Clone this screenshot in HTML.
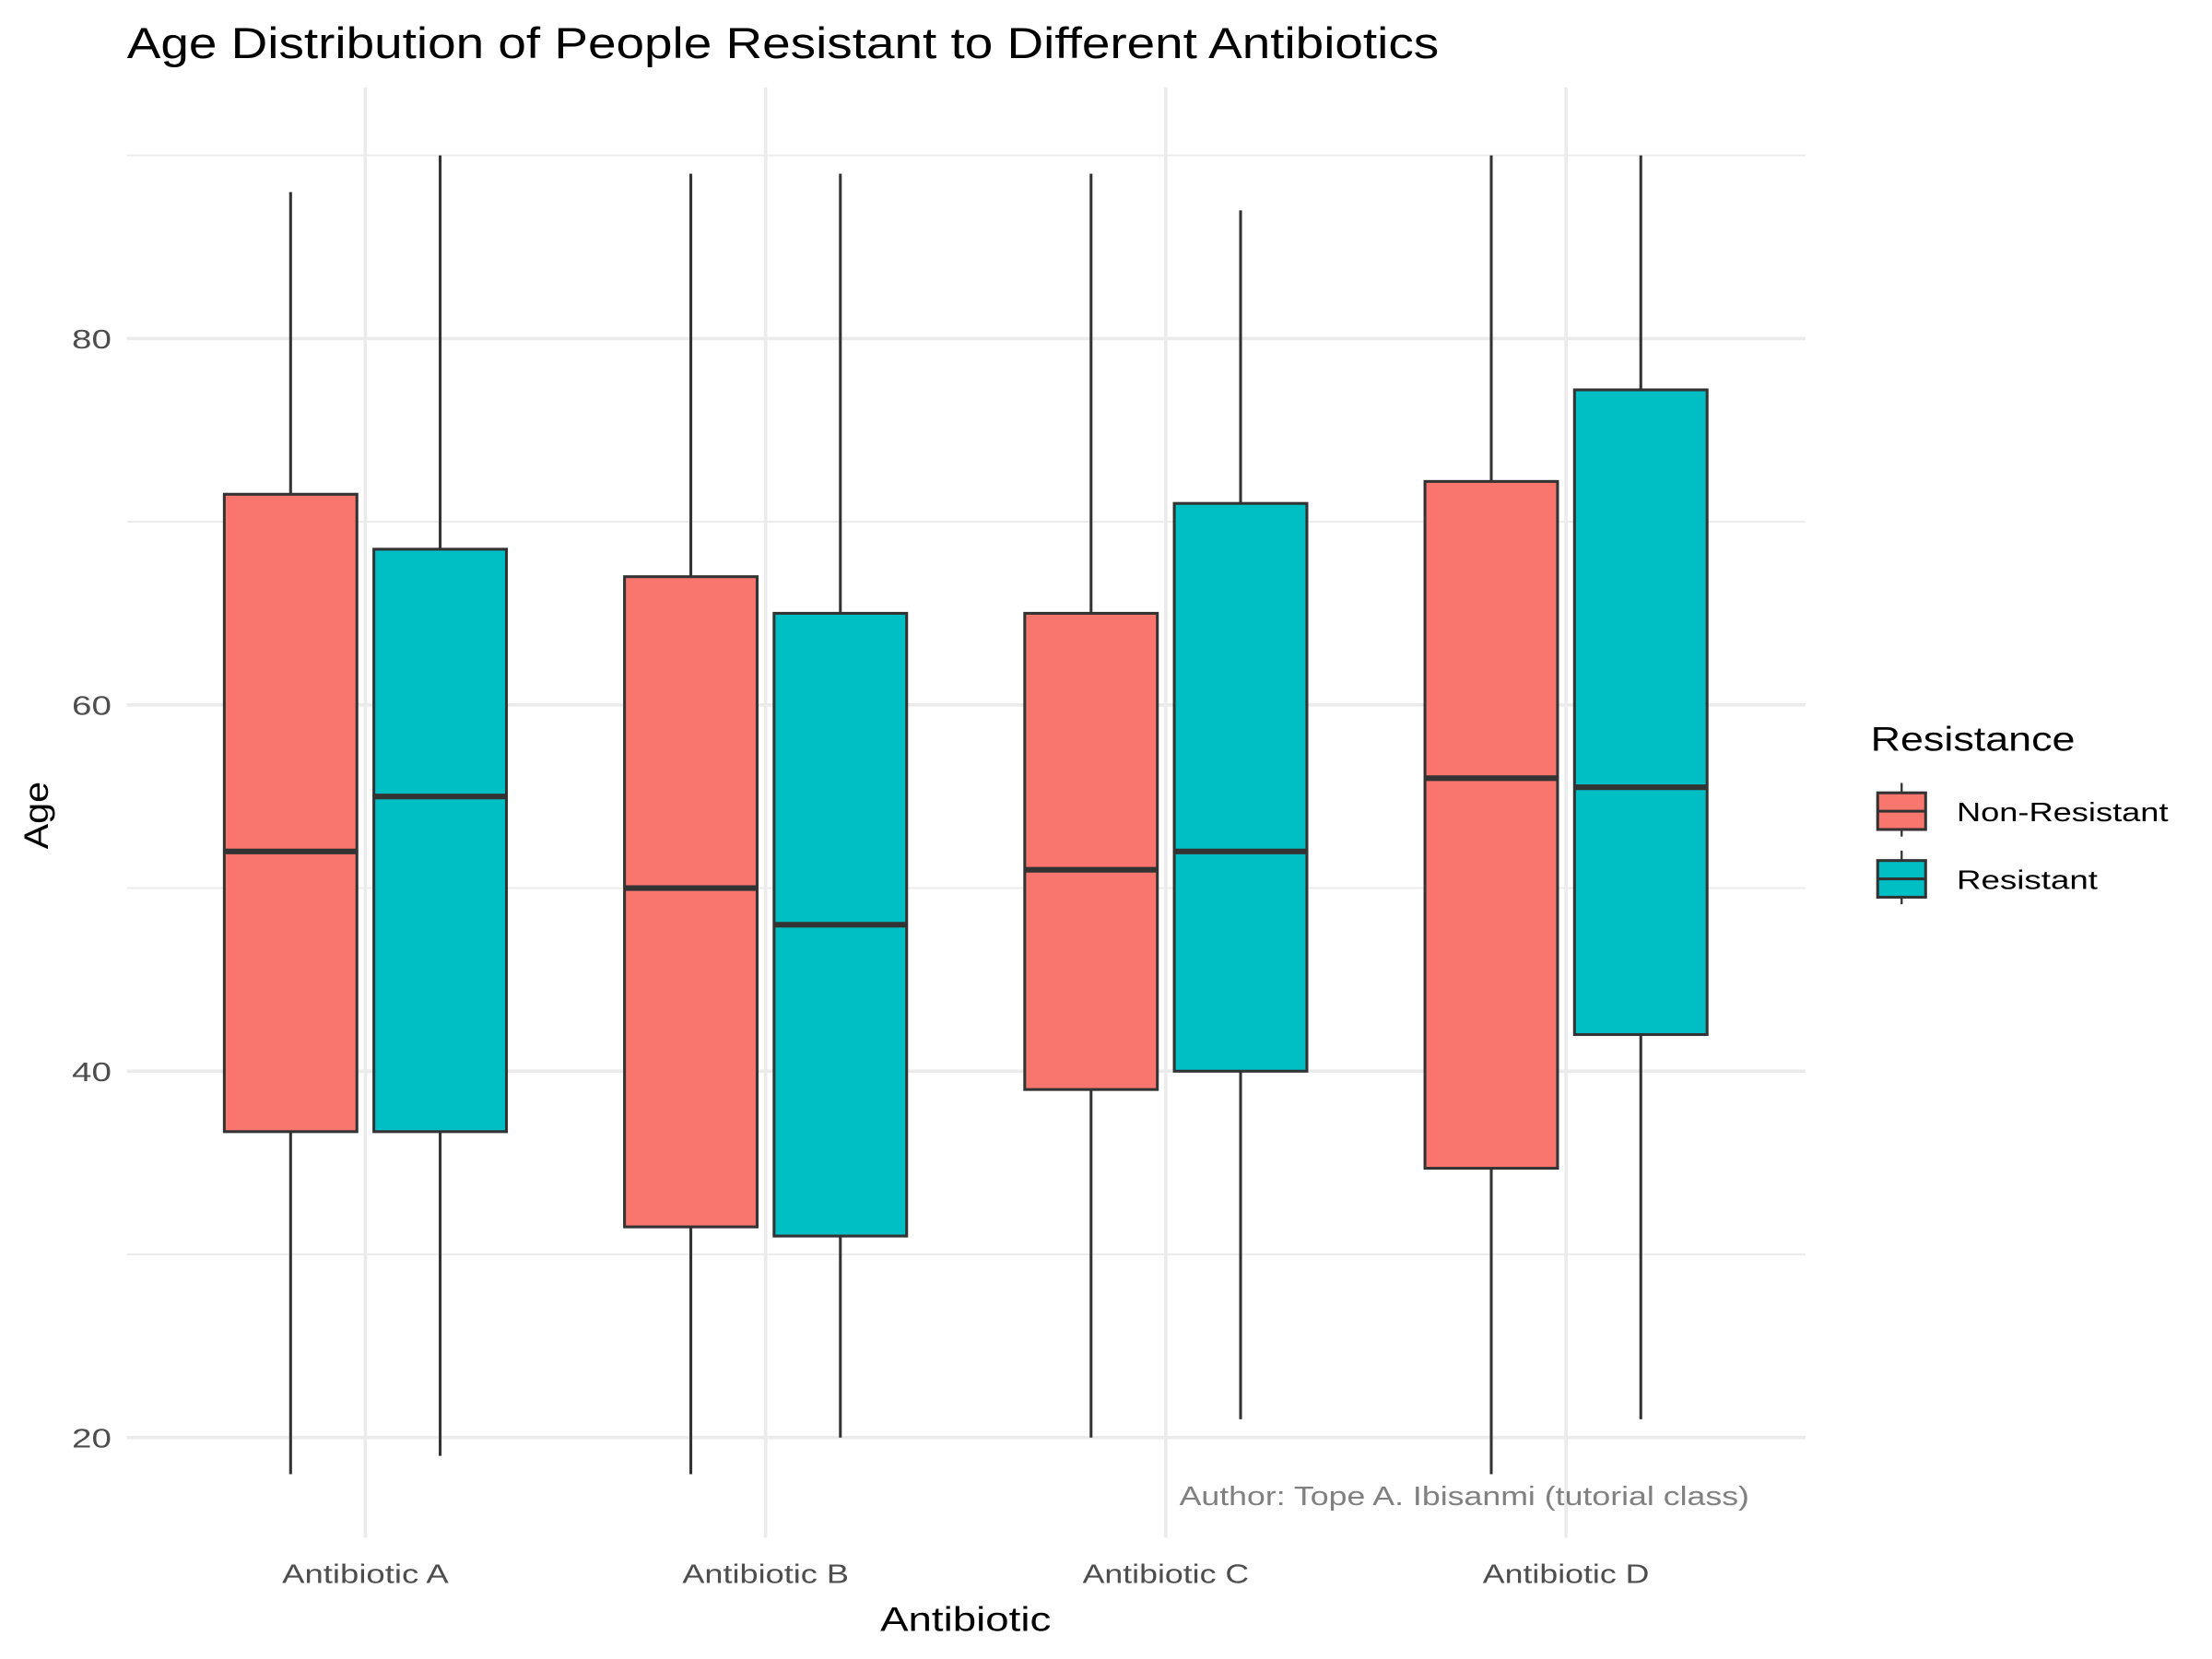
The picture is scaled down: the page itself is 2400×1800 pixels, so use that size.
<!DOCTYPE html>
<html><head><meta charset="utf-8"><style>html,body{margin:0;padding:0;background:#fff}svg{display:block}</style></head>
<body>
<svg id="chart" width="2400" height="1800" viewBox="0 0 1568 1176" xmlns="http://www.w3.org/2000/svg" font-family="Liberation Sans, sans-serif">
<g id="grid"></g>
<g id="boxes"></g>
<g id="axes"></g>
<text x="90" y="41" font-size="31" textLength="930" lengthAdjust="spacingAndGlyphs" fill="#000">Age Distribution of People Resistant to Different Antibiotics</text>
<text transform="translate(34,578) rotate(-90)" text-anchor="middle" font-size="24" textLength="48" lengthAdjust="spacingAndGlyphs" fill="#000">Age</text>
<text x="624" y="1156" font-size="24" textLength="121" lengthAdjust="spacingAndGlyphs" fill="#000">Antibiotic</text>
<text x="836" y="1067" font-size="19" textLength="404" lengthAdjust="spacingAndGlyphs" fill="#808080">Author: Tope A. Ibisanmi (tutorial class)</text>
<g>
<text x="1326" y="532" font-size="24" textLength="145" lengthAdjust="spacingAndGlyphs" fill="#000">Resistance</text>
<g>
<line x1="1348" y1="555" x2="1348" y2="593" stroke="#333" stroke-width="1.5"/>
<rect x="1331" y="562" width="34" height="26" fill="#F8766D" stroke="#333" stroke-width="2"/>
<line x1="1331" y1="575" x2="1365" y2="575" stroke="#333" stroke-width="2"/>
<text x="1387" y="582" font-size="19" textLength="150" lengthAdjust="spacingAndGlyphs" fill="#000">Non-Resistant</text></g>
<g>
<line x1="1348" y1="603" x2="1348" y2="641" stroke="#333" stroke-width="1.5"/>
<rect x="1331" y="610" width="34" height="26" fill="#00BFC4" stroke="#333" stroke-width="2"/>
<line x1="1331" y1="623" x2="1365" y2="623" stroke="#333" stroke-width="2"/>
<text x="1387" y="630" font-size="19" textLength="100" lengthAdjust="spacingAndGlyphs" fill="#000">Resistant</text></g>
</g>
</svg>
<script>
const categories = ["Antibiotic A","Antibiotic B","Antibiotic C","Antibiotic D"];
const groups = ["Non-Resistant","Resistant"];
const colors = ["#F8766D","#00BFC4"];
const nrMin = [18,18,20,18];
const nrQ1 = [36.7,31.5,39,34.7];
const nrMed = [52,50,51,56];
const nrQ3 = [71.5,67,65,72.2];
const nrMax = [88,89,89,90];
const rMin = [19,20,21,21];
const rQ1 = [36.7,31,40,42];
const rMed = [55,48,52,55.5];
const rQ3 = [68.5,65,71,77.2];
const rMax = [90,89,87,90];
const yTicks = [20,40,60,80];
const yMinor = [30,50,70,90];

const NS="http://www.w3.org/2000/svg";
const px0=90, px1=1280, py0=62, py1=1090;
function y(v){return 1019 - (v-20)*(779/60);}
function x(i){return 259 + i*283.7;}
function mk(tag,attrs,parent){const e=document.createElementNS(NS,tag);for(const k in attrs)e.setAttribute(k,attrs[k]);parent.appendChild(e);return e;}
const grid=document.getElementById('grid'), boxes=document.getElementById('boxes'), axes=document.getElementById('axes');
yMinor.forEach(v=>{const l=mk('line',{x1:px0,x2:px1,y1:y(v),y2:y(v),stroke:'#ebebeb','stroke-width':1.2},grid);

});
yTicks.forEach(v=>{const l=mk('line',{x1:px0,x2:px1,y1:y(v),y2:y(v),stroke:'#ebebeb','stroke-width':2.4},grid);


const t=mk('text',{x:79,y:y(v)+7,'text-anchor':'end','font-size':19,textLength:28,lengthAdjust:'spacingAndGlyphs',fill:'#4d4d4d'},axes);t.textContent=v;

});
categories.forEach((c,i)=>{const l=mk('line',{x1:x(i),x2:x(i),y1:py0,y2:py1,stroke:'#ebebeb','stroke-width':2.4},grid);


const t=mk('text',{x:x(i)-59,y:1122,'font-size':19,textLength:118,lengthAdjust:'spacingAndGlyphs',fill:'#4d4d4d'},axes);t.textContent=c;

});
const series=[[nrMin,nrQ1,nrMed,nrQ3,nrMax],[rMin,rQ1,rMed,rQ3,rMax]];
const off=[-53,53], w=94;
categories.forEach((c,i)=>{series.forEach((s,g)=>{
const cx=x(i)+off[g];
const mn=s[0][i], q1=s[1][i], md=s[2][i], q3=s[3][i], mx=s[4][i];
const gg=mk('g',{},boxes);


mk('line',{x1:cx,x2:cx,y1:y(mx),y2:y(q3),stroke:'#333','stroke-width':2},gg);
mk('line',{x1:cx,x2:cx,y1:y(q1),y2:y(mn),stroke:'#333','stroke-width':2},gg);
mk('rect',{x:cx-w/2,y:y(q3),width:w,height:y(q1)-y(q3),fill:colors[g],stroke:'#333','stroke-width':2},gg);
mk('line',{x1:cx-w/2,x2:cx+w/2,y1:y(md),y2:y(md),stroke:'#333','stroke-width':4},gg);
});});
</script>
</body></html>
